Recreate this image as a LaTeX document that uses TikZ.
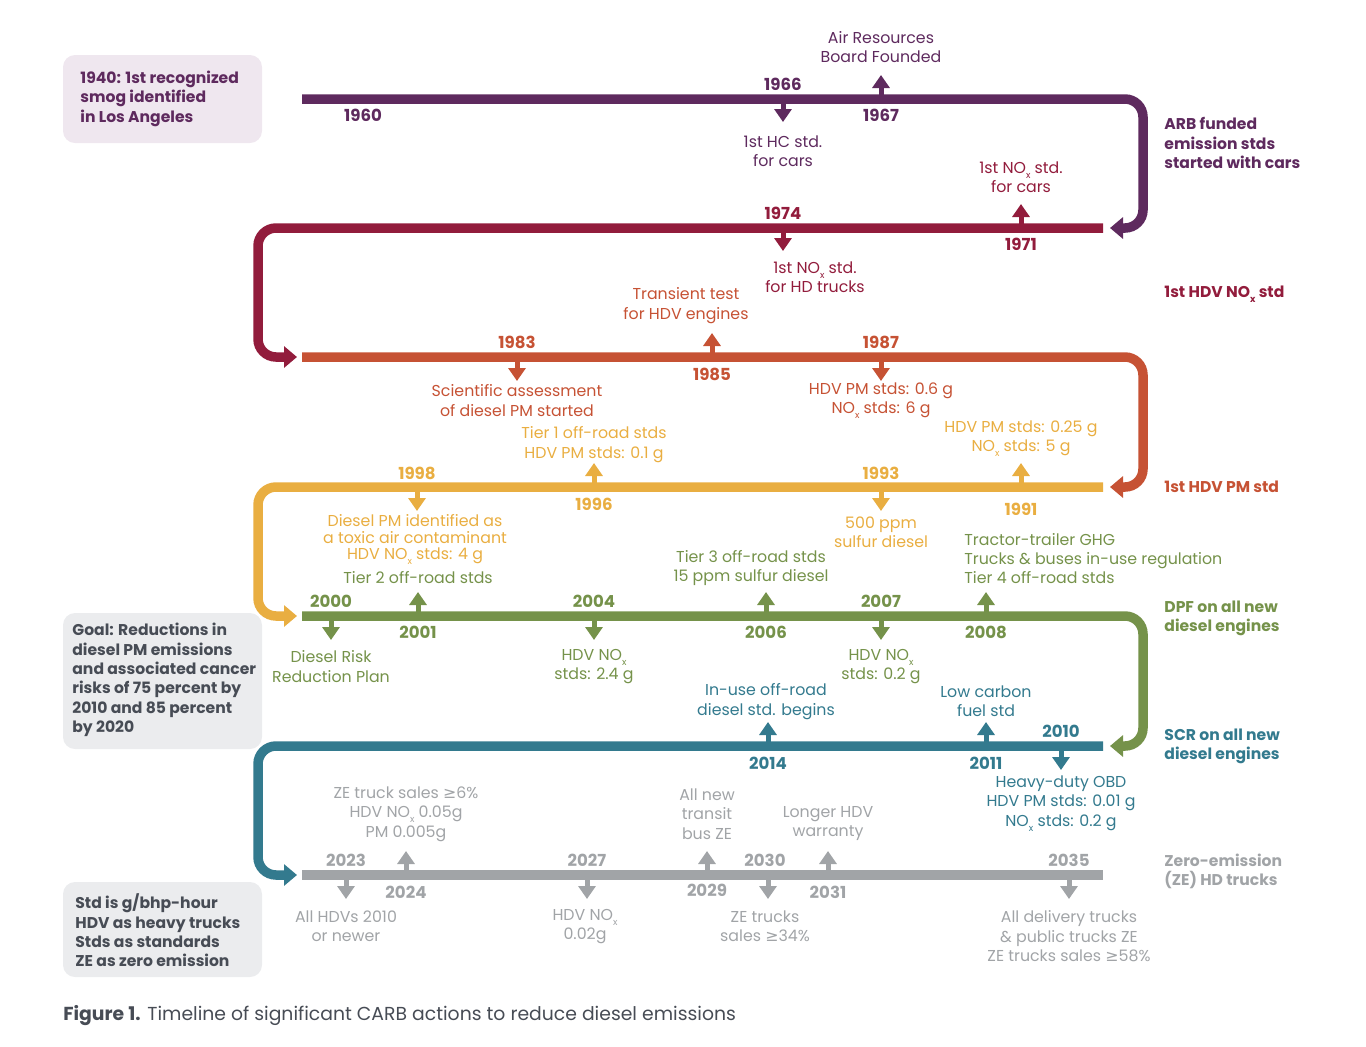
\documentclass[tikz,border=0pt]{standalone}
\usepackage{fontspec}
\setmainfont{Poppins}
\newfontfamily\symfont{DejaVu Sans}
\usetikzlibrary{arrows.meta}
\definecolor{c60}{HTML}{5E2A5E}
\definecolor{c70}{HTML}{921C3C}
\definecolor{c80}{HTML}{C65234}
\definecolor{c90}{HTML}{E9AE41}
\definecolor{c00}{HTML}{75924A}
\definecolor{c10}{HTML}{337A8E}
\definecolor{c20}{HTML}{A1A4A7}
\definecolor{boxgray}{HTML}{EBECEE}
\definecolor{boxpink}{HTML}{EFE7EF}
\definecolor{ink}{HTML}{474C55}
\newcommand{\nox}{NO\raisebox{-0.55ex}{\fontsize{4.6}{5}\selectfont x}}
\begin{document}
\begin{tikzpicture}[x=0.5pt,y=-0.5pt,
    bar/.style={line width=4.75pt,rounded corners=9pt},
    barend/.style={-{Triangle[width=10.5pt,length=6.5pt]}},
    evt/.style={line width=2.5pt,-{Triangle[width=8.5pt,length=6.5pt]}},
    yr/.style={inner sep=0pt,font=\fontsize{8.3}{10}\selectfont\bfseries},
    lbl/.style={inner sep=0pt,align=center,font=\fontsize{7.9}{9.7}\selectfont},
    side/.style={inner sep=0pt,anchor=west,align=left,font=\fontsize{7.8}{9.7}\selectfont\bfseries},
    box/.style={inner sep=0pt,rounded corners=6pt,minimum width=99.5pt},
    note/.style={inner sep=0pt,anchor=west,align=left,font=\fontsize{7.8}{9.7}\selectfont\bfseries}]
    \useasboundingbox (0,0) rectangle (1366,1046);

    % Boxes
    \node[box,fill=boxpink,minimum height=44pt] (smogbox) at (162.5,99) {};
    \node[box,fill=boxgray,minimum height=68pt] (goalbox) at (162.5,681) {};
    \node[box,fill=boxgray,minimum height=47.5pt] (unitbox) at (162.5,929.5) {};
    \node[note,c60] (smog) at (80,98.5) {1940: 1st recognized\\smog identified\\in Los Angeles};
    \node[note,ink] (goal) at (72,680) {Goal: Reductions in\\diesel PM emissions\\and associated cancer\\risks of 75 percent by\\2010 and 85 percent\\by 2020};
    \node[note,ink] (units) at (75,930.5) {Std is g/bhp-hour\\HDV as heavy trucks\\Stds as standards\\ZE as zero emission};

    % Bars
    \draw[bar,barend,c60] (302,99) -- (1143,99) -- (1143,228) -- (1110,228);
    \draw[bar,barend,c70] (1103,228) -- (258,228) -- (258,357) -- (297,357);
    \draw[bar,barend,c80] (302,357) -- (1143,357) -- (1143,487) -- (1110,487);
    \draw[bar,barend,c90] (1103,487) -- (258,487) -- (258,616) -- (297,616);
    \draw[bar,barend,c00] (302,616) -- (1143,616) -- (1143,746) -- (1110,746);
    \draw[bar,barend,c10] (1103,746) -- (258,746) -- (258,875) -- (297,875);
    \draw[bar,c20] (302,875) -- (1103,875);

    % 1960s
    \coordinate (e1966) at (783,99); \coordinate (t1966) at (783,122);
    \coordinate (e1967) at (881,99); \coordinate (t1967) at (881,75);
    \draw[evt,c60] (e1966) -- (t1966);
    \draw[evt,c60] (e1967) -- (t1967);
    \node[yr,c60] (y1960) at (363,115) {1960};
    \node[yr,c60] (y1966) at (783,84) {1966};
    \node[yr,c60] (y1967) at (881,115) {1967};
    \node[lbl,c60] (l1966) at (783,151) {1st HC std.\\for cars};
    \node[lbl,c60] (l1967) at (881,47) {Air Resources\\Board Founded};
    \node[side,c60] (s60) at (1164,143) {ARB funded\\emission stds\\started with cars};

    % 1970s
    \coordinate (e1974) at (783,228); \coordinate (t1974) at (783,251);
    \coordinate (e1971) at (1021,228); \coordinate (t1971) at (1021,204);
    \draw[evt,c70] (e1974) -- (t1974);
    \draw[evt,c70] (e1971) -- (t1971);
    \node[yr,c70] (y1974) at (783,213) {1974};
    \node[yr,c70] (y1971) at (1021,244) {1971};
    \node[lbl,c70] (l1974) at (815,277.5) {1st \nox{} std.\\for HD trucks};
    \node[lbl,c70] (l1971) at (1021,177.5) {1st \nox{} std.\\for cars};
    \node[side,c70] (s70) at (1164,294) {1st HDV \nox{} std};

    % 1980s
    \coordinate (e1983) at (517,357); \coordinate (t1983) at (517,381);
    \coordinate (e1985) at (712,357); \coordinate (t1985) at (712,333);
    \coordinate (e1987) at (881,357); \coordinate (t1987) at (881,381);
    \draw[evt,c80] (e1983) -- (t1983);
    \draw[evt,c80] (e1985) -- (t1985);
    \draw[evt,c80] (e1987) -- (t1987);
    \node[yr,c80] (y1983) at (517,342) {1983};
    \node[yr,c80] (y1985) at (712,374) {1985};
    \node[yr,c80] (y1987) at (881,342) {1987};
    \node[lbl,c80] (l1983) at (517,400.5) {Scientific assessment\\of diesel PM started};
    \node[lbl,c80] (l1985) at (686,305.5) {Transient test\\for HDV engines};
    \node[lbl,c80] (l1987) at (881,400.5) {HDV PM stds: 0.6 g\\\nox{} stds: 6 g};
    \node[side,c80] (s80) at (1164,487) {1st HDV PM std};

    % 1990s
    \coordinate (e1998) at (417,487); \coordinate (t1998) at (417,511);
    \coordinate (e1996) at (594,487); \coordinate (t1996) at (594,463);
    \coordinate (e1993) at (881,487); \coordinate (t1993) at (881,511);
    \coordinate (e1991) at (1021,487); \coordinate (t1991) at (1021,463);
    \draw[evt,c90] (e1998) -- (t1998);
    \draw[evt,c90] (e1996) -- (t1996);
    \draw[evt,c90] (e1993) -- (t1993);
    \draw[evt,c90] (e1991) -- (t1991);
    \node[yr,c90] (y1998) at (417,473) {1998};
    \node[yr,c90] (y1996) at (594,504) {1996};
    \node[yr,c90] (y1993) at (881,473) {1993};
    \node[yr,c90] (y1991) at (1021,509) {1991};
    \node[lbl,c90,font=\fontsize{7.9}{8.3}\selectfont] (l1998) at (415,539.5) {Diesel PM identified as\\a toxic air contaminant\\HDV \nox{} stds: 4 g};
    \node[lbl,c90] (l1996) at (594,444.5) {Tier 1 off-road stds\\HDV PM stds: 0.1 g};
    \node[lbl,c90] (l1993) at (881,532.5) {500 ppm\\sulfur diesel};
    \node[lbl,c90] (l1991) at (1021,438.5) {HDV PM stds: 0.25 g\\\nox{} stds: 5 g};

    % 2000s
    \coordinate (e2000) at (331,616); \coordinate (t2000) at (331,640);
    \coordinate (e2001) at (418,616); \coordinate (t2001) at (418,592);
    \coordinate (e2004) at (594,616); \coordinate (t2004) at (594,640);
    \coordinate (e2006) at (766,616); \coordinate (t2006) at (766,592);
    \coordinate (e2007) at (881,616); \coordinate (t2007) at (881,640);
    \coordinate (e2008) at (986,616); \coordinate (t2008) at (986,592);
    \draw[evt,c00] (e2000) -- (t2000);
    \draw[evt,c00] (e2001) -- (t2001);
    \draw[evt,c00] (e2004) -- (t2004);
    \draw[evt,c00] (e2006) -- (t2006);
    \draw[evt,c00] (e2007) -- (t2007);
    \draw[evt,c00] (e2008) -- (t2008);
    \node[yr,c00] (y2000) at (331,601) {2000};
    \node[yr,c00] (y2001) at (418,632) {2001};
    \node[yr,c00] (y2004) at (594,601) {2004};
    \node[yr,c00] (y2006) at (766,632) {2006};
    \node[yr,c00] (y2007) at (881,601) {2007};
    \node[yr,c00] (y2008) at (986,632) {2008};
    \node[lbl,c00] (l2000) at (331,666.5) {Diesel Risk\\Reduction Plan};
    \node[lbl,c00] (l2001) at (418,578) {Tier 2 off-road stds};
    \node[lbl,c00] (l2004) at (594,666.5) {HDV \nox\\stds: 2.4 g};
    \node[lbl,c00] (l2006) at (751,568) {Tier 3 off-road stds\\15 ppm sulfur diesel};
    \node[lbl,c00] (l2007) at (881,666.5) {HDV \nox\\stds: 0.2 g};
    \node[lbl,c00,anchor=west,align=left] (l2008) at (964,558.5) {Tractor-trailer GHG\\Trucks \& buses in-use regulation\\Tier 4 off-road stds};
    \node[side,c00] (s00) at (1164,618.5) {DPF on all new\\diesel engines};

    % 2010s
    \coordinate (e2014) at (768,746); \coordinate (t2014) at (768,722);
    \coordinate (e2011) at (986,746); \coordinate (t2011) at (986,722);
    \coordinate (e2010) at (1061,746); \coordinate (t2010) at (1061,770);
    \draw[evt,c10] (e2014) -- (t2014);
    \draw[evt,c10] (e2011) -- (t2011);
    \draw[evt,c10] (e2010) -- (t2010);
    \node[yr,c10] (y2014) at (768,763) {2014};
    \node[yr,c10] (y2011) at (986,763) {2011};
    \node[yr,c10] (y2010) at (1061,731) {2010};
    \node[lbl,c10] (l2014) at (766,701.5) {In-use off-road\\diesel std. begins};
    \node[lbl,c10] (l2011) at (986,701.5) {Low carbon\\fuel std};
    \node[lbl,c10] (l2010) at (1061,803.5) {Heavy-duty OBD\\HDV PM stds: 0.01 g\\\nox{} stds: 0.2 g};
    \node[side,c10] (s10) at (1164,746.5) {SCR on all new\\diesel engines};

    % 2020s and 2030s
    \coordinate (e2023) at (346,875); \coordinate (t2023) at (346,899);
    \coordinate (e2024) at (406,875); \coordinate (t2024) at (406,851);
    \coordinate (e2027) at (587,875); \coordinate (t2027) at (587,899);
    \coordinate (e2029) at (707,875); \coordinate (t2029) at (707,851);
    \coordinate (e2030) at (768,875); \coordinate (t2030) at (768,899);
    \coordinate (e2031) at (828,875); \coordinate (t2031) at (828,851);
    \coordinate (e2035) at (1069,875); \coordinate (t2035) at (1069,899);
    \draw[evt,c20] (e2023) -- (t2023);
    \draw[evt,c20] (e2024) -- (t2024);
    \draw[evt,c20] (e2027) -- (t2027);
    \draw[evt,c20] (e2029) -- (t2029);
    \draw[evt,c20] (e2030) -- (t2030);
    \draw[evt,c20] (e2031) -- (t2031);
    \draw[evt,c20] (e2035) -- (t2035);
    \node[yr,c20] (y2023) at (346,860) {2023};
    \node[yr,c20] (y2024) at (406,892) {2024};
    \node[yr,c20] (y2027) at (587,860) {2027};
    \node[yr,c20] (y2029) at (707,890) {2029};
    \node[yr,c20] (y2030) at (765,860) {2030};
    \node[yr,c20] (y2031) at (828,892) {2031};
    \node[yr,c20] (y2035) at (1069,860) {2035};
    \node[lbl,c20] (l2023) at (346,926.5) {All HDVs 2010\\or newer};
    \node[lbl,c20] (l2024) at (406,814) {ZE truck sales {\symfont ≥}6\%\\HDV \nox{} 0.05g\\PM 0.005g};
    \node[lbl,c20] (l2027) at (585,926.5) {HDV \nox\\0.02g};
    \node[lbl,c20] (l2029) at (707,814) {All new\\transit\\bus ZE};
    \node[lbl,c20] (l2030) at (765,926.5) {ZE trucks\\sales {\symfont ≥}34\%};
    \node[lbl,c20] (l2031) at (828,823.5) {Longer HDV\\warranty};
    \node[lbl,c20] (l2035) at (1069,936.5) {All delivery trucks\\\& public trucks ZE\\ZE trucks sales {\symfont ≥}58\%};
    \node[side,c20] (s20) at (1164,871.5) {Zero-emission\\(ZE) HD trucks};

    % Caption
    \node[inner sep=0pt,anchor=west,ink,font=\fontsize{9.4}{11}\selectfont] (cap) at (63,1016) {\textbf{Figure 1.} Timeline of significant CARB actions to reduce diesel emissions};
\end{tikzpicture}
\end{document}
